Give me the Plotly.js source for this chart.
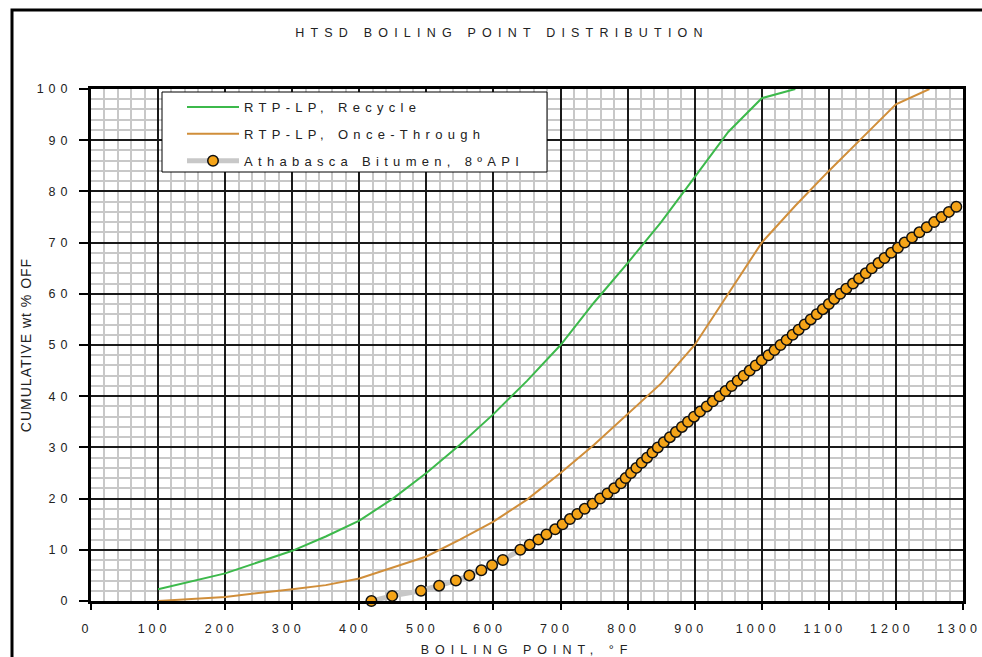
<!DOCTYPE html>
<html><head><meta charset="utf-8">
<script src="https://cdn.plot.ly/plotly-3.0.1.min.js"></script>
<style>
html,body{margin:0;padding:0;background:#fff;}
#chart{width:982px;height:657px;}
.legendtext{letter-spacing:5.3px;}
.gtitle{letter-spacing:6.2px;}
.xtick text{letter-spacing:4px;}
.ytick text{letter-spacing:5px;}
.xtitle{letter-spacing:6px;}
.ytitle{letter-spacing:1px;}
</style></head><body><div id="chart"></div>
<script>
const recycleX = [100,200,300,350,400,450,500,550,600,650,700,750,800,850,900,950,1000,1050];
const recycleY = [2.3,5.4,9.8,12.6,15.7,20,25,30.5,36.5,43,50,58.3,66,74,82.8,91.6,98.2,100];

const onceX = [100,200,300,350,400,450,500,550,600,650,700,750,800,850,900,950,1000,1050,1100,1150,1200,1250];
const onceY = [0,0.8,2.3,3.1,4.4,6.5,8.7,12,15.5,19.8,25,30.5,36.5,42.5,50,60,70,77.2,84,90.5,97,100];

const bitumenX = [418,449,492,519,544,564,582,598,614,
  640,654,667,679,692,703,714,725,736,748,
  759,770,780,790,797,805,813,821,829,837,
  845,854,863,872,881,890,899,908,918,927,
  937,946,955,964,973,982,991,1000,1010,1019,
  1028,1037,1046,1055,1064,1073,1082,1091,1100,1108,
  1117,1126,1136,1145,1155,1164,1174,1183,1193,1203,
  1213,1224,1235,1246,1257,1268,1279,1290];
const bitumenY = [0,1,2,3,4,5,6,7,8,
  10,11,12,13,14,15,16,17,18,19,
  20,21,22,23,24,25,26,27,28,29,
  30,31,32,33,34,35,36,37,38,39,
  40,41,42,43,44,45,46,47,48,49,
  50,51,52,53,54,55,56,57,58,59,
  60,61,62,63,64,65,66,67,68,69,
  70,71,72,73,74,75,76,77];

const names = ['RTP-LP, Recycle','RTP-LP, Once-Through','Athabasca Bitumen, 8ºAPI'];

const FONT = 'Liberation Sans, Arial, sans-serif';
const TXT = '#222';

const traces = [
  {x: recycleX, y: recycleY, name: names[0], mode: 'lines', legendgroup: 'a',
   line: {color: '#3cb94b', width: 2}},
  {x: onceX, y: onceY, name: names[1], mode: 'lines', legendgroup: 'b',
   line: {color: '#d08e3a', width: 2}},
  {x: bitumenX, y: bitumenY, name: names[2], mode: 'lines+markers', legendgroup: 'c',
   cliponaxis: false,
   line: {color: '#c8c8c8', width: 5},
   marker: {color: '#f5a418', size: 10.5, line: {color: '#111', width: 1.5}}}
];

const W = 872, H = 512, L = 91, T = 89;
function px(p){ return (p - L) / W; }
function py(p){ return (T + H - p) / H; }

const layout = {
  width: 982, height: 657,
  margin: {l: L, r: 982 - L - W, t: T, b: 657 - T - H},
  paper_bgcolor: '#fff', plot_bgcolor: '#fff',
  font: {family: FONT, color: TXT, size: 12},
  showlegend: true,
  title: {text: 'HTSD BOILING POINT DISTRIBUTION', x: px(502), xref: 'paper', xanchor: 'center',
          y: 1 - 33/657, yref: 'container', yanchor: 'middle',
          font: {family: FONT, size: 12.5, color: TXT}},
  xaxis: {
    range: [0, 1300], dtick: 100, tick0: 0,
    showgrid: true, gridcolor: '#1a1a1a', gridwidth: 1.5,
    minor: {dtick: 20, showgrid: true, gridcolor: '#c8c8c8', gridwidth: 1.5, ticks: ''},
    showline: true, linecolor: '#000', linewidth: 3, mirror: true,
    ticks: 'outside', ticklen: 6, tickwidth: 1.5, tickcolor: '#000',
    ticklabelstandoff: 8, ticklabelshift: -4, ticklabeloverflow: 'allow',
    zeroline: false,
    tickfont: {family: FONT, size: 12.5, color: TXT},
    title: {text: 'BOILING POINT, °F', standoff: 14, font: {family: FONT, size: 12.5, color: TXT}}
  },
  yaxis: {
    range: [0, 100], dtick: 10, tick0: 0,
    showgrid: true, gridcolor: '#1a1a1a', gridwidth: 1.5,
    minor: {dtick: 2, showgrid: true, gridcolor: '#c8c8c8', gridwidth: 1.5, ticks: ''},
    showline: true, linecolor: '#000', linewidth: 3, mirror: true,
    ticks: 'outside', ticklen: 9, tickwidth: 1.5, tickcolor: '#000',
    ticklabelstandoff: 4, ticklabeloverflow: 'allow',
    zeroline: false,
    tickfont: {family: FONT, size: 12.5, color: TXT},
    title: {text: 'CUMULATIVE wt % OFF', standoff: 2, font: {family: FONT, size: 14, color: TXT}}
  },
  legend: {
    x: px(182), y: py(92), xanchor: 'left', yanchor: 'top',
    bgcolor: 'rgba(0,0,0,0)', borderwidth: 0,
    traceorder: 'grouped', tracegroupgap: 7,
    itemwidth: 52,
    font: {family: FONT, size: 13, color: TXT}
  },
  shapes: [
    {type: 'rect', xref: 'paper', yref: 'paper', layer: 'above',
     x0: px(162), x1: px(547), y0: py(172), y1: py(92),
     fillcolor: '#fff', line: {color: '#000', width: 1}},
    {type: 'rect', xref: 'paper', yref: 'paper', layer: 'above',
     x0: px(12), x1: px(1010), y0: py(680), y1: py(10),
     fillcolor: 'rgba(0,0,0,0)', line: {color: '#000', width: 3}}
  ]
};

Plotly.newPlot('chart', traces, layout, {displayModeBar: false, responsive: false});
</script></body></html>
